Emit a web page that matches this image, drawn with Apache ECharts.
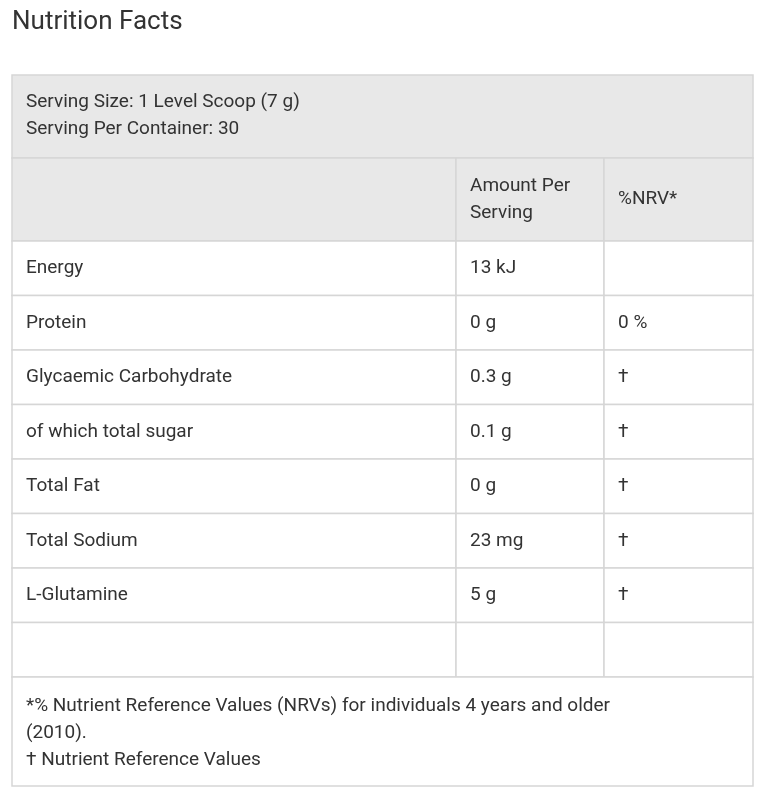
<!DOCTYPE html>
<html><head><meta charset="utf-8">
<script src="https://cdn.jsdelivr.net/npm/echarts@6/dist/echarts.min.js"></script>
<style>body{margin:0;background:#fff}#c{width:764px;height:800px}</style>
</head><body><div id="c"></div>
<script>
const title = 'Nutrition Facts';
const servingLines = ['Serving Size: 1 Level Scoop (7 g)', 'Serving Per Container: 30'];
const headers = ['', 'Amount Per\nServing', '%NRV*'];
const nutrients = ['Energy', 'Protein', 'Glycaemic Carbohydrate', 'of which total sugar', 'Total Fat', 'Total Sodium', 'L-Glutamine', ''];
const amounts = ['13 kJ', '0 g', '0.3 g', '0.1 g', '0 g', '23 mg', '5 g', ''];
const nrv = ['', '0 %', '†', '†', '†', '†', '†', ''];
const footnote = '*% Nutrient Reference Values (NRVs) for individuals 4 years and older\n(2010).\n† Nutrient Reference Values';

const chart = echarts.init(document.getElementById('c'));
const L = 12, R = 753, C1 = 456, C2 = 604, tableTop = 75;
const font = 'Roboto', col = '#333', line = '#d6d6d6', gray = '#e8e8e8';
const els = [];
const txt = (x, y, s, extra) => els.push({type: 'text', x, y, style: Object.assign({text: s, fill: col, font: '19px ' + font, lineHeight: 27, verticalAlign: 'middle'}, extra || {})});
const rect = (x, y, w, h, fill) => els.push({type: 'rect', shape: {x, y, width: w, height: h}, style: {fill, stroke: line, lineWidth: 1.5}});

els.push({type: 'text', x: 12, y: 22, style: {text: title, fill: col, font: '26px ' + font, verticalAlign: 'middle'}});
rect(L, tableTop, R - L, 83, gray);
txt(26, tableTop + 41, servingLines.join('\n'));
let y = 158;
const hh = 83;
[[L, C1], [C1, C2], [C2, R]].forEach(([a, b], i) => { rect(a, y, b - a, hh, gray); txt(a + 14, y + hh / 2, headers[i]); });
y += hh;
const rh = 54.5;
nutrients.forEach((n, i) => {
  const cells = [n, amounts[i], nrv[i]];
  [[L, C1], [C1, C2], [C2, R]].forEach(([a, b], j) => { rect(a, y, b - a, rh, '#fff'); txt(a + 14, y + rh / 2, cells[j]); });
  y += rh;
});
rect(L, y, R - L, 786 - y, '#fff');
txt(26, y + (786 - y) / 2 + 2, footnote);

chart.setOption({animation: false, graphic: {elements: els}});
</script></body></html>
